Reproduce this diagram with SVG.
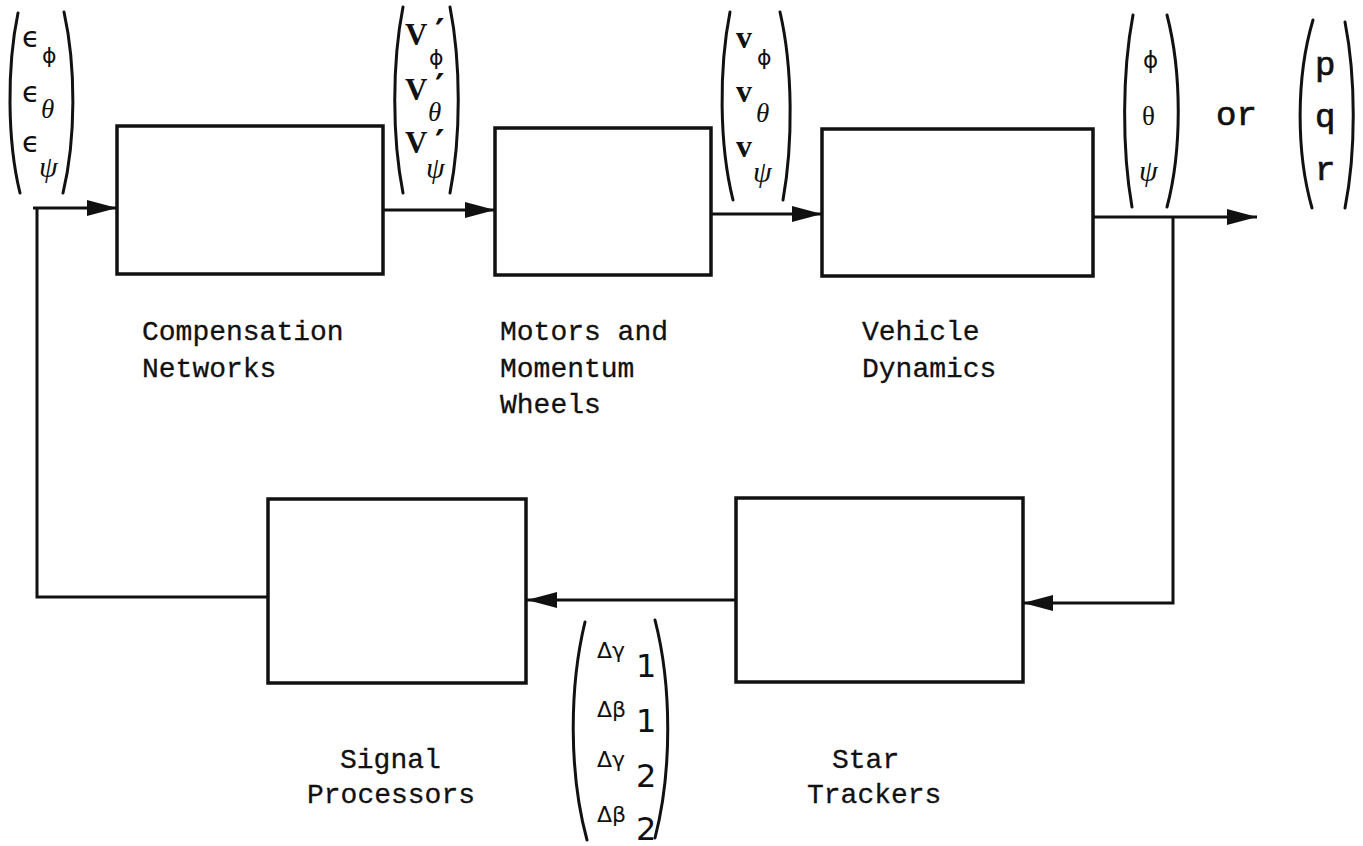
<svg xmlns="http://www.w3.org/2000/svg" width="1363" height="846" viewBox="0 0 1363 846">
<style>
.box{fill:none;stroke:#111;stroke-width:3.5}
.lbl{font-family:"Liberation Mono","DejaVu Sans Mono",monospace;font-size:28px;fill:#111;stroke:#111;stroke-width:0.3}
.wire{fill:none;stroke:#111;stroke-width:3}
.par{fill:none;stroke:#111;stroke-width:3;stroke-linecap:round}
.ser{font-family:"Liberation Serif","DejaVu Serif",serif;fill:#111}
.sans{font-family:"DejaVu Sans","Liberation Sans",sans-serif;fill:#111}
.mono{font-family:"Liberation Mono","DejaVu Sans Mono",monospace;fill:#111;stroke:#111;stroke-width:0.7}
.it{font-style:italic}
.b{font-weight:bold}
.pr{font-family:"DejaVu Sans","Liberation Sans",sans-serif;font-weight:bold;font-size:36px}
</style>
<defs>
<marker id="ah" markerUnits="userSpaceOnUse" markerWidth="30" markerHeight="16" refX="30" refY="8" orient="auto">
<path d="M0,0 L30,8 L0,16 z" fill="#111"/>
</marker>
</defs>
<rect width="1363" height="846" fill="#fff"/>

<g id="connectors">
<path class="wire" d="M33 208 H117" marker-end="url(#ah)"/>
<path class="wire" d="M383 210 H495" marker-end="url(#ah)"/>
<path class="wire" d="M711 214 H822" marker-end="url(#ah)"/>
<path class="wire" d="M1093 217 H1257" marker-end="url(#ah)"/>
<path class="wire" d="M1173 217 V603 H1023" marker-end="url(#ah)"/>
<path class="wire" d="M736 600 H527" marker-end="url(#ah)"/>
<path class="wire" d="M268 597 H37 V208"/>
</g>

<g id="compensation">
<rect class="box" x="117" y="126" width="266" height="148"/>
<text class="lbl" x="142" y="340">Compensation</text>
<text class="lbl" x="142" y="377">Networks</text>
</g>
<g id="motors">
<rect class="box" x="495" y="128" width="216" height="147"/>
<text class="lbl" x="500" y="340">Motors and</text>
<text class="lbl" x="500" y="377">Momentum</text>
<text class="lbl" x="500" y="413">Wheels</text>
</g>
<g id="vehicle">
<rect class="box" x="822" y="129" width="271" height="147"/>
<text class="lbl" x="862" y="340">Vehicle</text>
<text class="lbl" x="862" y="377">Dynamics</text>
</g>
<g id="signal">
<rect class="box" x="268" y="499" width="258" height="184"/>
<text class="lbl" x="340" y="768">Signal</text>
<text class="lbl" x="307" y="803">Processors</text>
</g>
<g id="star">
<rect class="box" x="736" y="498" width="287" height="184"/>
<text class="lbl" x="832" y="768">Star</text>
<text class="lbl" x="807" y="803">Trackers</text>
</g>

<g id="vec-error">
<path class="par" d="M18 13 C7 66, 7 140, 20 193"/>
<path class="par" d="M64 12 C76 66, 76 139, 63 193"/>
<text class="sans" x="22" y="47" font-size="29">ϵ<tspan x="42" y="63" font-size="22">ϕ</tspan></text>
<text class="sans" x="22" y="102" font-size="29">ϵ<tspan x="41" y="118" font-size="27" class="ser it">θ</tspan></text>
<text class="sans" x="22" y="152" font-size="29">ϵ<tspan x="39" y="177" font-size="30" class="ser it">ψ</tspan></text>
</g>

<g id="vec-vprime">
<path class="par" d="M403 7 C392 63, 392 137, 403 193"/>
<path class="par" d="M450 7 C461 63, 461 137, 450 193"/>
<text class="ser b" x="405" y="45" font-size="31">V<tspan class="pr" x="435" y="44">′</tspan><tspan class="sans" x="429" y="65" font-size="22" font-weight="normal">ϕ</tspan></text>
<text class="ser b" x="405" y="100" font-size="31">V<tspan class="pr" x="435" y="99">′</tspan><tspan class="ser it" x="428" y="121" font-size="27" font-weight="normal">θ</tspan></text>
<text class="ser b" x="405" y="153" font-size="31">V<tspan class="pr" x="435" y="155">′</tspan><tspan class="ser it" x="426" y="178" font-size="30" font-weight="normal">ψ</tspan></text>
</g>

<g id="vec-v">
<path class="par" d="M730 12 C719 68, 719 144, 733 200"/>
<path class="par" d="M780 12 C793 68, 793 144, 783 200"/>
<text class="ser b" x="736" y="48" font-size="32">v<tspan class="sans" x="757" y="65" font-size="22" font-weight="normal">ϕ</tspan></text>
<text class="ser b" x="736" y="102" font-size="32">v<tspan class="ser it" x="756" y="122" font-size="27" font-weight="normal">θ</tspan></text>
<text class="ser b" x="736" y="157" font-size="32">v<tspan class="ser it" x="753" y="182" font-size="30" font-weight="normal">ψ</tspan></text>
</g>

<g id="vec-angles">
<path class="par" d="M1133 15 C1122 73, 1122 150, 1132 207"/>
<path class="par" d="M1167 15 C1182 73, 1182 150, 1167 207"/>
<text class="sans" x="1143" y="68" font-size="23">ϕ</text>
<text class="ser" x="1142" y="125" font-size="27">θ</text>
<text class="ser it" x="1139" y="181" font-size="30">ψ</text>
</g>

<text id="or" class="mono" x="1216" y="125" font-size="34">or</text>

<g id="vec-rates">
<path class="par" d="M1313 20 C1296 77, 1296 152, 1312 208"/>
<path class="par" d="M1345 22 C1356 78, 1356 152, 1345 208"/>
<text class="mono" x="1315" y="75" font-size="34">p</text>
<text class="mono" x="1315" y="127" font-size="34">q</text>
<text class="mono" x="1315" y="180" font-size="34">r</text>
</g>

<g id="vec-tracker">
<path class="par" d="M585 622 C569 688, 569 774, 587 840"/>
<path class="par" d="M655 620 C672 686, 672 772, 655 838"/>
<text class="sans" x="597" y="658" font-size="22">Δγ<tspan x="636" y="677" font-size="32">1</tspan></text>
<text class="sans" x="597" y="717" font-size="22">Δβ<tspan x="636" y="732" font-size="32">1</tspan></text>
<text class="sans" x="597" y="767" font-size="22">Δγ<tspan x="636" y="787" font-size="32">2</tspan></text>
<text class="sans" x="597" y="822" font-size="22">Δβ<tspan x="636" y="840" font-size="32">2</tspan></text>
</g>
</svg>
